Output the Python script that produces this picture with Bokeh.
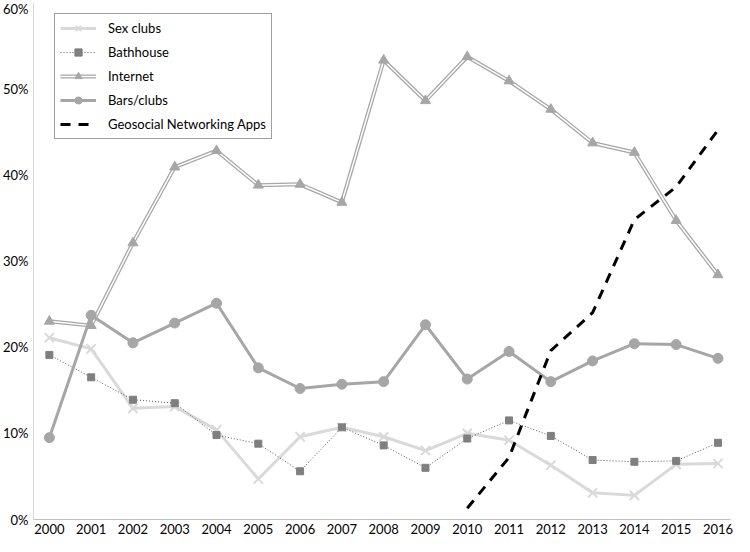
from bokeh.plotting import figure
from bokeh.models import FixedTicker, PrintfTickFormatter, Legend, LegendItem, Range1d
from bokeh.embed import file_html
from bokeh.resources import INLINE

years = list(range(2000, 2017))
sex_clubs = [21.1, 19.8, 12.9, 13.1, 10.4, 4.7, 9.6, 10.7, 9.6, 8.0, 10.0, 9.2, 6.3, 3.1, 2.8, 6.4, 6.5]
bathhouse = [19.1, 16.5, 13.9, 13.5, 9.8, 8.8, 5.6, 10.7, 8.6, 6.0, 9.4, 11.5, 9.7, 6.9, 6.7, 6.8, 8.9]
internet = [23.0, 22.5, 32.1, 40.9, 42.8, 38.8, 38.9, 36.8, 53.3, 48.6, 53.7, 50.9, 47.6, 43.7, 42.6, 34.7, 28.4]
bars_clubs = [9.5, 23.7, 20.5, 22.8, 25.1, 17.6, 15.2, 15.7, 16.0, 22.6, 16.3, 19.5, 16.0, 18.4, 20.4, 20.3, 18.7]
geo_years = [2010, 2011, 2012, 2013, 2014, 2015, 2016]
geo_apps = [1.3, 7.2, 19.6, 24.0, 34.8, 38.6, 45.2]
y_ticks = [0, 10, 20, 30, 40, 50, 60]

FONT = "Lato"

p = figure(width=734, height=536, output_backend="svg", toolbar_location=None,
           x_range=Range1d(1999.62, 2016.3), y_range=Range1d(0, 60),
           min_border_left=0, min_border_top=2, min_border_bottom=0, min_border_right=4)
p.outline_line_color = None
p.xgrid.grid_line_color = None
p.ygrid.grid_line_color = None

# axes
p.xaxis.ticker = FixedTicker(ticks=years)
p.xaxis.major_tick_line_color = None
p.xaxis.minor_tick_line_color = None
p.xaxis.major_tick_out = 0
p.xaxis.major_tick_in = 0
p.xaxis.axis_line_color = "#bfbfbf"
p.xaxis.major_label_text_font = FONT
p.xaxis.major_label_text_font_size = "13px"
p.xaxis.major_label_text_color = "#000000"
p.xaxis.major_label_standoff = 4

p.yaxis.ticker = FixedTicker(ticks=y_ticks)
p.yaxis.formatter = PrintfTickFormatter(format="%d%%")
p.yaxis.major_tick_line_color = None
p.yaxis.minor_tick_line_color = None
p.yaxis.major_tick_out = 0
p.yaxis.major_tick_in = 0
p.yaxis.axis_line_color = "#d9d9d9"
p.yaxis.major_label_text_font = FONT
p.yaxis.major_label_text_font_size = "13px"
p.yaxis.major_label_text_color = "#000000"
p.yaxis.major_label_standoff = 5

# Sex clubs
sc_l = p.line(years, sex_clubs, line_color="#d9d9d9", line_width=3)
sc_m = p.scatter(years, sex_clubs, marker="x", size=13, line_color="#d9d9d9", line_width=2)

# Bathhouse
bh_l = p.line(years, bathhouse, line_color="#595959", line_width=1, line_dash="1 2")
bh_m = p.scatter(years, bathhouse, marker="square", size=7, fill_color="#7f7f7f", line_color="#7f7f7f")

# Internet (double line)
in_l1 = p.line(years, internet, line_color="#a6a6a6", line_width=4)
in_l2 = p.line(years, internet, line_color="#ffffff", line_width=1.5)
in_m = p.scatter(years, internet, marker="triangle", size=10, fill_color="#a6a6a6", line_color="#a6a6a6")

# Bars/clubs
bc_l = p.line(years, bars_clubs, line_color="#a6a6a6", line_width=3)
bc_m = p.scatter(years, bars_clubs, marker="circle", size=10, fill_color="#a6a6a6", line_color="#a6a6a6")

# Geosocial
geo_l = p.line(geo_years, geo_apps, line_color="#000000", line_width=3, line_dash="10 8")

legend = Legend(items=[
    LegendItem(label="Sex clubs", renderers=[sc_l, sc_m]),
    LegendItem(label="Bathhouse", renderers=[bh_l, bh_m]),
    LegendItem(label="Internet", renderers=[in_l1, in_l2, in_m]),
    LegendItem(label="Bars/clubs", renderers=[bc_l, bc_m]),
    LegendItem(label="Geosocial Networking Apps", renderers=[geo_l]),
])
legend.location = (21, 380)
legend.border_line_color = "#404040"
legend.border_line_width = 1
legend.background_fill_alpha = 1
legend.label_text_font = FONT
legend.label_text_font_size = "13px"
legend.label_text_color = "#000000"
legend.glyph_width = 36
legend.glyph_height = 18
legend.label_height = 18
legend.spacing = 6
legend.padding = 5
legend.label_standoff = 12
legend.margin = 0
p.add_layout(legend, "center")

open("out.html", "w").write(file_html(p, INLINE))
